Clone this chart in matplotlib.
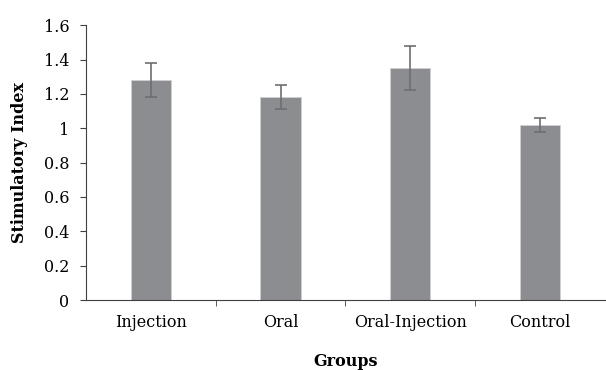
import matplotlib.pyplot as plt
import numpy as np

groups = ["Injection", "Oral", "Oral-Injection", "Control"]
means = [1.28, 1.18, 1.35, 1.02]
errors = [0.10, 0.07, 0.13, 0.04]

plt.rcParams['font.family'] = ['DejaVu Serif']

fig = plt.figure(figsize=(6.06, 3.7), dpi=100)
ax = fig.add_axes([0.142, 0.189, 0.856, 0.743])

x = np.arange(len(groups))
ax.bar(x, means, width=0.31, color="#8c8d91", edgecolor="#d0d0d2", linewidth=0.6,
       yerr=errors, error_kw=dict(ecolor="#6e6e72", elinewidth=1.2, capsize=4, capthick=1.2))

ax.set_xlim(-0.5, len(groups) - 0.5)
ax.set_ylim(0, 1.6)
ax.set_yticks(np.arange(0, 1.61, 0.2))
ax.set_yticklabels(["0", "0.2", "0.4", "0.6", "0.8", "1", "1.2", "1.4", "1.6"])
ax.set_xticks(x)
ax.set_xticklabels(groups)
ax.set_xticks(np.arange(0.5, len(groups) - 0.5, 1), minor=True)
ax.tick_params(axis='x', which='major', length=0, pad=10, labelsize=11.5)
ax.tick_params(axis='x', which='minor', length=4, direction='out', color="#404040")
ax.tick_params(axis='y', length=4, direction='out', color="#404040", labelsize=11.5, pad=8)

for s in ["top", "right"]:
    ax.spines[s].set_visible(False)
for s in ["left", "bottom"]:
    ax.spines[s].set_color("#404040")

ax.set_xlabel("Groups", fontweight="bold", fontsize=11.5, labelpad=16)
ax.set_ylabel("Stimulatory Index", fontweight="bold", fontsize=11.5, labelpad=11)

fig.savefig("out.png", dpi=100)
